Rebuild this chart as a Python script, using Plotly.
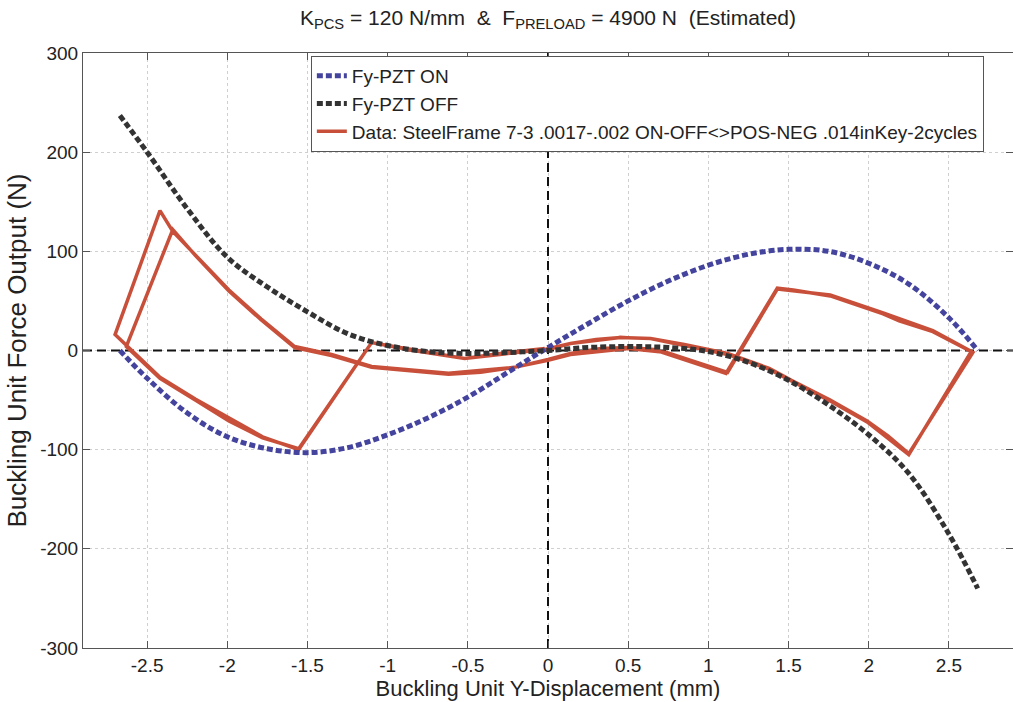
import plotly.graph_objects as go

# ---- tick definitions ----
x_ticks = [-2.5, -2, -1.5, -1, -0.5, 0, 0.5, 1, 1.5, 2, 2.5]
x_tick_labels = ["-2.5", "-2", "-1.5", "-1", "-0.5", "0", "0.5", "1", "1.5", "2", "2.5"]
y_ticks = [-300, -200, -100, 0, 100, 200, 300]
y_tick_labels = ["-300", "-200", "-100", "0", "100", "200", "300"]

# ---- Fy-PZT ON (model) ----
x_on = [-2.67, -2.5, -2.25, -2.0, -1.75, -1.5, -1.25, -1.0, -0.75, -0.5, -0.25, 0.0,
        0.25, 0.5, 0.75, 1.0, 1.25, 1.5, 1.75, 2.0, 2.25, 2.5, 2.68]
y_on = [0, -28, -63, -87, -99, -103, -98, -85, -68, -47, -22, 3,
        27, 50, 70, 86, 97, 102, 100, 88, 67, 33, 0]

# ---- Fy-PZT OFF (model) ----
x_off = [-2.67, -2.5, -2.25, -2.0, -1.75, -1.5, -1.25, -1.0, -0.75, -0.5, -0.25, 0.0,
         0.25, 0.5, 0.75, 1.0, 1.25, 1.5, 1.75, 2.0, 2.25, 2.5, 2.68]
y_off = [237, 200, 143, 94, 64, 39, 17, 5, -1, -3, -2, 0,
         3, 4, 3, -1, -12, -30, -55, -85, -124, -185, -240]

# ---- Measured data (2 cycles) ----
x_data = [0.00, 0.14, 0.30, 0.45, 0.64, 0.85, 1.12, 1.38, 1.53, 1.76, 1.99, 2.12, 2.25,
          2.65, 2.40, 2.19, 2.09, 1.90, 1.76, 1.53, 1.43,
          1.11, 0.74, 0.66, 0.50, 0.33, 0.14, 0.00, -0.21, -0.42, -0.62, -0.85, -1.10, -1.35,
          -1.58, -1.79, -1.99, -2.20, -2.34,
          -2.63, -2.42, -2.20, -1.99, -1.78, -1.555,
          -1.10, -0.84, -0.52, -0.30, -0.02,
          0.14, 0.45, 0.64, 0.85, 1.12, 1.38, 1.53, 1.76, 1.99, 2.25,
          2.64, 2.40, 2.09, 1.76, 1.43,
          1.12, 0.74, 0.50, 0.14, 0.00, -0.21, -0.62, -1.10, -1.35, -1.58, -1.79, -1.99, -2.20,
          -2.34, -2.42,
          -2.70, -2.42, -2.20, -1.78, -1.555,
          -1.10, -0.84, -0.52, -0.30, -0.02]
y_data = [1, 7, 11, 13, 12, 6, -3, -18, -31, -50, -71, -86, -104,
          -2, 19, 30, 37, 47, 55, 61, 63,
          -23, -3, 1, 3, 2, -3, -9, -17, -22, -24, -21, -17, -5,
          3, 31, 60, 96, 122,
          4, -28, -50, -71, -88, -99,
          8, 1, -8, -4, 1,
          7, 13, 12, 5, -4, -19, -32, -51, -72, -105,
          -1, 20, 38, 56, 62,
          -22, -2, 2, -4, -10, -17, -23, -16, -4, 4, 32, 61, 97,
          120, 141,
          16, -27, -49, -87, -100,
          8, 0, -8, -3, 2]

FONT = "Liberation Sans, Arial, Helvetica, sans-serif"
nb = "\u00a0"

fig = go.Figure()
fig.add_trace(go.Scatter(x=x_data, y=y_data, mode="lines",
                         name="Data: SteelFrame 7-3 .0017-.002 ON-OFF<>POS-NEG .014inKey-2cycles",
                         line=dict(color="#c8503a", width=3.5), legendrank=3))
fig.add_trace(go.Scatter(x=x_on, y=y_on, mode="lines", name="Fy-PZT ON", line_shape="spline",
                         line=dict(color="#44449e", width=5, dash="6px,3px"), legendrank=1))
fig.add_trace(go.Scatter(x=x_off, y=y_off, mode="lines", name="Fy-PZT OFF", line_shape="spline",
                         line=dict(color="#333333", width=5, dash="6px,3px"), legendrank=2))

fig.add_shape(type="line", x0=-2.9, x1=2.9, y0=0, y1=0, xref="x", yref="y",
              line=dict(color="#111", width=2, dash="9px,5px"), layer="between")
fig.add_shape(type="line", x0=0, x1=0, y0=-300, y1=300, xref="x", yref="y",
              line=dict(color="#111", width=2, dash="9px,5px"), layer="between")

axis_common = dict(showline=True, linecolor="#555", linewidth=1, mirror="ticks",
                   ticks="inside", ticklen=7, tickcolor="#555",
                   showgrid=True, gridcolor="#cfcfcf", griddash="dot", gridwidth=1,
                   zeroline=False, tickfont=dict(size=19, color="#222", family=FONT))

fig.update_layout(
    width=1013, height=702,
    margin=dict(l=83, r=0, t=53, b=54),
    paper_bgcolor="white", plot_bgcolor="white",
    font=dict(family=FONT, color="#222"),
    title=dict(text="K<sub>PCS</sub> = 120 N/mm " + nb + "& " + nb + "F<sub>PRELOAD</sub> = 4900 N " + nb + "(Estimated)",
               x=0.5, xref="paper", xanchor="center", y=0.975, yref="container", yanchor="middle",
               font=dict(size=21, family=FONT, color="#222")),
    xaxis=dict(range=[-2.9, 2.9], tickvals=x_ticks, ticktext=x_tick_labels,
               title=dict(text="Buckling Unit Y-Displacement (mm)", font=dict(size=22, family=FONT),
                          standoff=4),
               **axis_common),
    yaxis=dict(range=[-300, 300], tickvals=y_ticks, ticktext=y_tick_labels,
               title=dict(text="Buckling Unit Force Output (N)", font=dict(size=26, family=FONT),
                          standoff=6),
               **axis_common),
    legend=dict(x=0.245, y=0.995, xanchor="left", yanchor="top", bgcolor="white",
                bordercolor="#555", borderwidth=1, font=dict(size=19, family=FONT, color="#222"),
                itemwidth=30, traceorder="normal"),
    showlegend=True,
)

fig.write_html("out.html")
